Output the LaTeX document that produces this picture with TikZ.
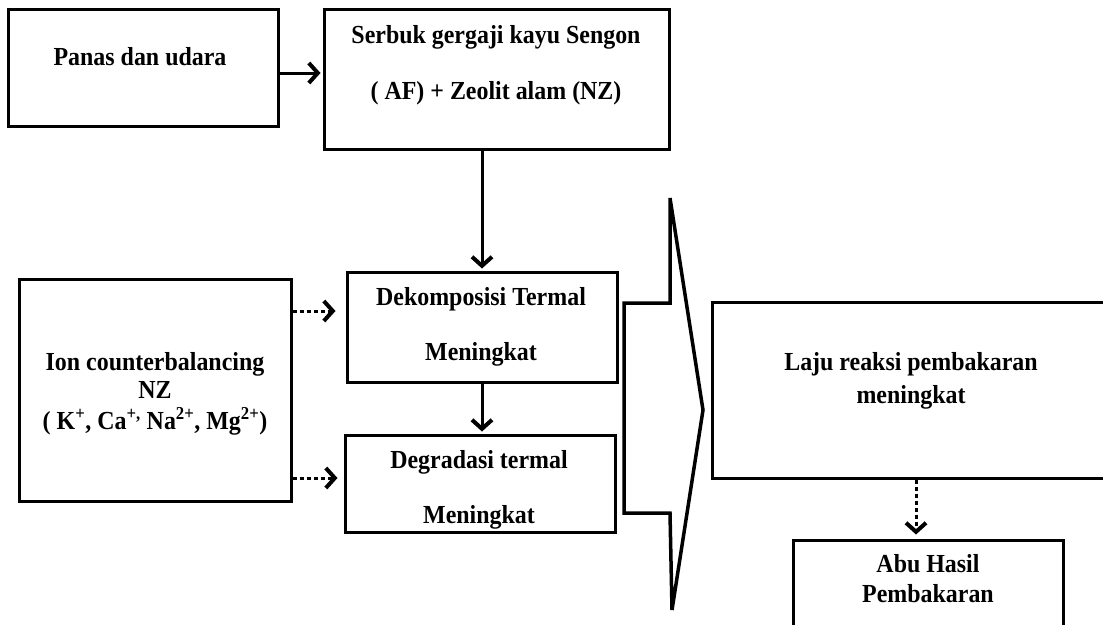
\documentclass[tikz,border=0pt]{standalone}
\usepackage{fontspec}
\setmainfont{Liberation Serif}
\newfontfamily\tebal[FakeStretch=0.92]{Liberation Serif}
\usetikzlibrary{arrows.meta}

\tikzset{
  kotak/.style={draw, line width=3pt, rectangle, inner sep=0pt},
  teks/.style={font=\tebal\fontsize{26}{30}\selectfont\bfseries, anchor=base, inner sep=0pt},
  panah/.style={line width=3pt, -{Straight Barb[length=9pt,width=20pt,line width=4pt]}},
  panahtitik/.style={panah, dash pattern=on 4pt off 3pt},
}

\begin{document}
\begin{tikzpicture}[x=1pt,y=-1pt,join=miter] % Skema pembakaran
   \useasboundingbox (0,0) rectangle (1103,624);
   % kotak
   \node[kotak, minimum width=270, minimum height=117] (panas) at (143,67.5) {};
   \node[kotak, minimum width=345, minimum height=140] (serbuk) at (496.5,79) {};
   \node[kotak, minimum width=272, minimum height=222] (ion) at (155,390) {};
   \node[kotak, minimum width=270, minimum height=110] (dekom) at (482,327) {};
   \node[kotak, minimum width=270, minimum height=97] (degra) at (480,483.5) {};
   \node[kotak, minimum width=394, minimum height=176] (laju) at (909,390) {};
   \node[kotak, minimum width=270, minimum height=92] (abu) at (928,586) {};
   % teks
   \node[teks] (panas-t) at (140,65) {Panas dan udara};
   \node[teks] (serbuk-t1) at (496,43) {Serbuk gergaji kayu Sengon};
   \node[teks] (serbuk-t2) at (496,99) {( AF) + Zeolit alam (NZ)};
   \node[teks] (ion-t1) at (155,370) {Ion counterbalancing};
   \node[teks] (ion-t2) at (155,398) {NZ};
   \node[teks] (ion-t3) at (155,429) {( K\textsuperscript{+}, Ca\textsuperscript{+,} Na\textsuperscript{2+}, Mg\textsuperscript{2+})};
   \node[teks] (dekom-t1) at (481,305) {Dekomposisi Termal};
   \node[teks] (dekom-t2) at (481,360) {Meningkat};
   \node[teks] (degra-t1) at (479,468) {Degradasi termal};
   \node[teks] (degra-t2) at (479,523) {Meningkat};
   \node[teks] (laju-t1) at (911,370) {Laju reaksi pembakaran};
   \node[teks] (laju-t2) at (911,403) {meningkat};
   \node[teks] (abu-t1) at (928,572) {Abu Hasil};
   \node[teks] (abu-t2) at (928,602) {Pembakaran};
   % panah
   \draw[panah, shorten >=2pt] ([yshift=-5.5pt]panas.east) coordinate (p1) -- (p1 -| serbuk.west);
   \draw[panah, shorten >=2pt] (serbuk.south -| dekom.north) -- (dekom.north);
   \draw[panah, shorten >=2pt] (dekom.south) -- (degra.north -| dekom.south);
   \coordinate (d1) at ([yshift=16pt,xshift=-10pt]dekom.west);
   \coordinate (d2) at ([yshift=5.5pt,xshift=-6pt]degra.west);
   \coordinate (a1) at ([xshift=-12pt,yshift=4pt]abu.north);
   \draw[panahtitik] (ion.east |- d1) -- (d1);
   \draw[panahtitik] (ion.east |- d2) -- (d2);
   \draw[panahtitik] (laju.south -| a1) -- (a1);
   % panah besar
   \draw[line width=3.5pt] (624,303) -- (670,303) -- (670,198) -- (703,410)
        -- (672,610) -- (670,513) -- (624,513) -- cycle;
\end{tikzpicture}
\end{document}
